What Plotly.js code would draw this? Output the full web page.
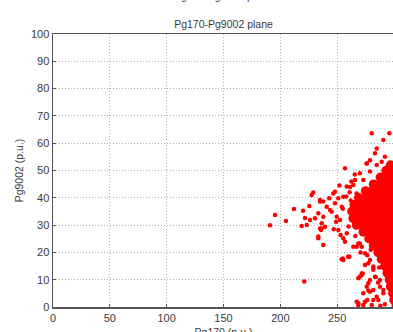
<!DOCTYPE html>
<html>
<head>
<meta charset="utf-8">
<script src="https://cdn.plot.ly/plotly-3.0.1.min.js"></script>
<style>
html,body{margin:0;padding:0;background:#fff;overflow:hidden;width:393px;height:332px;}
#chart{width:400px;height:345px;}
</style>
</head>
<body>
<div id="chart"></div>
<script>
// Dense core of the Pg170-Pg9002 cloud
const coreX = [
  297, 302,
  293, 299, 304,
  288, 294, 300, 304,
  282, 288, 294, 300, 305,
  275, 281, 287, 293, 299, 305,
  269, 275, 281, 287, 293, 299, 305,
  265, 271, 277, 283, 289, 295, 301, 305,
  263, 269, 275, 281, 287, 293, 299, 305,
  264, 270, 276, 282, 288, 294, 300, 305,
  267, 273, 279, 285, 291, 297, 303,
  273, 279, 285, 291, 297, 303,
  278, 284, 290, 296, 302,
  282, 288, 294, 300, 305,
  286, 292, 298, 304,
  289, 295, 301, 305,
  292, 298, 304,
  294, 300, 305,
  296, 302,
  297, 303,
  299, 304,
  300, 305,
  302
];
const coreY = [
  52, 52,
  50, 50, 50,
  47.5, 47.5, 47.5, 47.5,
  45, 45, 45, 45, 45,
  42.5, 42.5, 42.5, 42.5, 42.5, 42.5,
  40, 40, 40, 40, 40, 40, 40,
  37.5, 37.5, 37.5, 37.5, 37.5, 37.5, 37.5, 37.5,
  35, 35, 35, 35, 35, 35, 35, 35,
  32.5, 32.5, 32.5, 32.5, 32.5, 32.5, 32.5, 32.5,
  30, 30, 30, 30, 30, 30, 30,
  27.5, 27.5, 27.5, 27.5, 27.5, 27.5,
  25, 25, 25, 25, 25,
  22.5, 22.5, 22.5, 22.5, 22.5,
  20, 20, 20, 20,
  17.5, 17.5, 17.5, 17.5,
  15, 15, 15,
  12.5, 12.5, 12.5,
  10, 10,
  7.5, 7.5,
  5, 5,
  2.5, 2.5,
  0.5
];
// Scattered outlying points
const outX = [
  190.9, 195.3, 205.0, 212.0, 218.8, 220.0, 221.0, 221.7, 227.6, 229.0,
  225.5, 233.4, 234.9, 237.8, 235.8, 237.8, 240.8, 243.0, 245.2, 249.0,
  251.0, 248.0, 254.9, 260.7, 256.9, 253.0, 256.9, 261.3, 265.7, 270.0,
  272.5, 268.6, 273.0, 276.5, 277.4, 280.4, 276.0, 278.9, 283.3, 284.8,
  290.6, 295.9, 292.0, 281.8, 278.9, 283.3, 287.7, 286.2, 290.6, 274.5,
  271.6, 236.4, 254.0, 259.8, 271.6, 268.6, 276.0, 278.9, 267.2, 273.0,
  281.8, 277.4, 281.8, 288.0, 286.0, 292.0, 255.0, 258.0, 247.0, 252.0,
  234.9, 237.8, 233.4, 230.5, 236.4, 239.3, 243.7, 246.6, 248.1, 249.6,
  252.5, 254.0, 255.4, 251.0, 255.4, 258.4, 264.2, 267.1, 264.2, 268.6,
  233.4, 234.9, 223.2, 226.1, 276.0, 278.9, 284.8, 289.2, 270.0, 273.0,
  271.6, 255.4, 259.8, 267.1, 270.0, 274.5, 278.9, 281.8, 277.4, 281.8,
  284.8, 274.5, 268.6, 280.4, 287.7, 290.6, 262.0, 260.0, 258.5, 261.0,
  266.0, 270.5, 276.5, 279.5, 284.0, 287.0, 262.5, 265.5
];
const outY = [
  29.9, 33.7, 31.5, 35.9, 29.7, 35.3, 9.3, 32.6, 41.0, 41.9,
  37.0, 25.2, 38.6, 22.7, 28.2, 33.1, 36.7, 39.8, 34.9, 31.2,
  39.8, 42.2, 17.8, 18.4, 50.8, 26.4, 23.9, 44.0, 46.5, 11.1,
  12.3, 1.4, 5.0, 2.6, 6.0, 63.6, 52.6, 53.8, 56.3, 58.1,
  61.2, 63.6, 55.0, 14.8, 9.9, 11.1, 7.4, 2.6, 5.0, 19.7,
  22.1, 28.8, 17.5, 18.4, 11.7, 10.5, 7.4, 5.6, 1.9, 0.7,
  2.6, 16.0, 14.2, 0.5, 9.0, 1.0, 36.0, 40.5, 28.5, 44.5,
  39.2, 38.6, 34.3, 32.5, 30.7, 29.4, 35.5, 41.6, 38.0, 33.1,
  31.9, 36.7, 40.4, 28.2, 25.2, 44.1, 44.7, 41.6, 22.1, 23.3,
  25.8, 28.8, 30.0, 31.9, 52.6, 49.6, 52.0, 53.2, 49.0, 46.5,
  12.3, 17.2, 18.4, 22.1, 23.3, 15.4, 17.2, 13.6, 8.7, 6.2,
  3.8, 1.9, 0.7, 0.7, 9.9, 6.2, 39.0, 29.5, 27.0, 42.0,
  26.0, 20.0, 19.0, 21.0, 11.0, 14.5, 46.0, 48.5
];
const xTicks = [0, 50, 100, 150, 200, 250, 300];
const yTicks = [0, 10, 20, 30, 40, 50, 60, 70, 80, 90, 100];

const traces = [
  {x: coreX, y: coreY, type: 'scatter', mode: 'markers',
   marker: {color: '#ff0000', size: 9.5, line: {width: 0}}, hoverinfo: 'skip'},
  {x: outX, y: outY, type: 'scatter', mode: 'markers',
   marker: {color: '#ff0000', size: 4.5, line: {width: 0}}, hoverinfo: 'skip'}
];

const axisCommon = {
  showline: true, linecolor: '#555555', linewidth: 1.5, mirror: true,
  ticks: 'inside', ticklen: 3, tickcolor: '#555555',
  showgrid: true, gridcolor: '#b0b0b0', griddash: '1px,2px', gridwidth: 1,
  zeroline: false, automargin: false,
  tickfont: {family: 'Liberation Sans, Arial, sans-serif', size: 11, color: '#3a3a3a'}
};

const layout = {
  width: 400, height: 345,
  margin: {l: 53, r: 6, t: 34, b: 38},
  paper_bgcolor: '#ffffff', plot_bgcolor: '#ffffff',
  showlegend: false,
  font: {family: 'Liberation Sans, Arial, sans-serif', size: 11, color: '#3a3a3a'},
  title: {text: 'Pg170-Pg9002 plane', font: {size: 10.5, color: '#3a3a3a'},
          x: 0.5, xref: 'paper', y: 1, yref: 'paper', yanchor: 'bottom', pad: {b: 6}},
  xaxis: Object.assign({}, axisCommon, {
    range: [0, 300], tickvals: xTicks, ticktext: xTicks.map(String),
    title: {text: 'Pg170 (p.u.)', standoff: 6, font: {size: 10.5}}
  }),
  yaxis: Object.assign({}, axisCommon, {
    range: [0, 100], tickvals: yTicks, ticktext: yTicks.map(String),
    title: {text: 'Pg9002 (p.u.)', standoff: 5, font: {size: 10.5}}
  }),
  annotations: [{
    text: 'Pg170-Pg9002 plane', xref: 'paper', yref: 'paper', x: 0.5, y: 1,
    xanchor: 'center', yanchor: 'bottom', yshift: 30, showarrow: false,
    font: {size: 10.5, color: '#3a3a3a'}
  }]
};

Plotly.newPlot('chart', traces, layout, {displayModeBar: false, staticPlot: true});
</script>
</body>
</html>
